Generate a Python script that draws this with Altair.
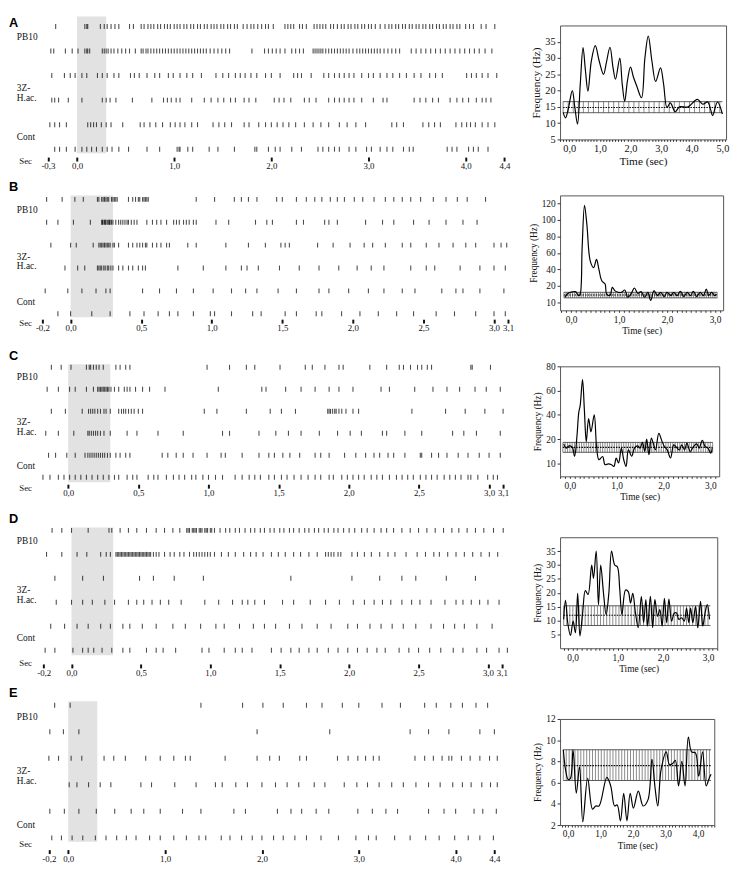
import altair as alt
import numpy as np
import pandas as pd

# ---------------- data (spike times in s, 6 trials per panel) ----------------
ROW_LABELS = ["PB10", "3Z-\nH.ac.", "Cont"]
ROW_LABEL_POS = [0.45, 2.5, 4.5]
STIM = [0.0, 0.3]

A_trials = [
    [-0.22, 0.08, 0.10, 0.11, 0.24, 0.28, 0.31, 0.35, 0.39, 0.43, 0.54, 0.58, 0.66, 0.69, 0.73, 0.76, 0.79, 0.83, 0.86, 0.90, 0.93, 0.96, 1.00, 1.03, 1.06, 1.10, 1.13, 1.17, 1.20, 1.24, 1.27, 1.31, 1.34, 1.38, 1.41, 1.44, 1.48, 1.51, 1.55, 1.58, 1.62, 1.65, 1.71, 1.75, 1.79, 1.82, 1.86, 1.90, 1.94, 1.97, 2.02, 2.14, 2.17, 2.20, 2.23, 2.29, 2.32, 2.36, 2.44, 2.47, 2.50, 2.53, 2.56, 2.61, 2.64, 2.68, 2.72, 2.75, 2.79, 2.82, 2.86, 2.89, 2.93, 2.96, 3.00, 3.03, 3.07, 3.12, 3.17, 3.21, 3.24, 3.28, 3.31, 3.35, 3.38, 3.42, 3.45, 3.49, 3.52, 3.56, 3.59, 3.63, 3.66, 3.70, 3.73, 3.77, 3.80, 3.84, 3.87, 3.91, 3.94, 4.00, 4.04, 4.08, 4.16, 4.21, 4.30],
    [-0.27, -0.24, -0.12, -0.05, 0.01, 0.08, 0.10, 0.11, 0.13, 0.26, 0.28, 0.30, 0.32, 0.35, 0.38, 0.42, 0.46, 0.50, 0.54, 0.60, 0.66, 0.68, 0.71, 0.73, 0.76, 0.79, 0.82, 0.85, 0.88, 0.91, 0.94, 0.97, 1.00, 1.03, 1.06, 1.09, 1.12, 1.15, 1.18, 1.21, 1.24, 1.27, 1.30, 1.33, 1.37, 1.41, 1.45, 1.49, 1.53, 1.57, 1.80, 1.93, 1.97, 2.01, 2.05, 2.09, 2.14, 2.21, 2.25, 2.29, 2.33, 2.43, 2.45, 2.47, 2.49, 2.51, 2.53, 2.56, 2.59, 2.62, 2.65, 2.68, 2.71, 2.74, 2.77, 2.80, 2.84, 2.88, 2.91, 2.94, 2.97, 3.00, 3.03, 3.06, 3.09, 3.12, 3.16, 3.20, 3.24, 3.28, 3.32, 3.44, 3.49, 3.54, 3.59, 3.64, 3.69, 3.74, 3.79, 3.84, 3.89, 3.94, 3.99, 4.04, 4.09, 4.14, 4.20, 4.27],
    [-0.26, -0.13, -0.07, -0.02, 0.05, 0.10, 0.21, 0.26, 0.31, 0.38, 0.43, 0.55, 0.59, 0.64, 0.72, 0.80, 0.85, 0.94, 0.99, 1.06, 1.13, 1.19, 1.28, 1.43, 1.50, 1.56, 1.63, 1.68, 1.73, 1.79, 1.85, 1.94, 2.00, 2.09, 2.23, 2.27, 2.31, 2.41, 2.54, 2.59, 2.65, 2.70, 2.75, 2.80, 2.85, 2.93, 3.00, 3.05, 3.12, 3.19, 3.25, 3.32, 3.39, 3.47, 3.54, 3.63, 3.69, 3.76, 4.01, 4.06, 4.11, 4.17, 4.23, 4.32],
    [-0.26, -0.23, -0.19, -0.09, 0.05, 0.26, 0.30, 0.34, 0.40, 0.57, 0.77, 0.89, 0.93, 0.97, 1.02, 1.06, 1.18, 1.31, 1.38, 1.45, 1.51, 1.58, 1.63, 1.72, 1.77, 1.84, 2.03, 2.08, 2.13, 2.20, 2.34, 2.39, 2.46, 2.59, 2.65, 2.70, 2.75, 2.80, 2.85, 2.93, 3.05, 3.15, 3.19, 3.47, 3.53, 3.59, 3.66, 3.72, 3.84, 3.91, 3.97, 4.03, 4.11, 4.17, 4.21, 4.26],
    [-0.28, -0.23, -0.18, -0.11, 0.11, 0.14, 0.17, 0.20, 0.25, 0.30, 0.35, 0.47, 0.65, 0.69, 0.75, 0.81, 0.88, 0.96, 1.01, 1.06, 1.11, 1.18, 1.24, 1.40, 1.46, 1.52, 1.59, 1.72, 1.77, 1.87, 1.94, 2.00, 2.06, 2.12, 2.18, 2.25, 2.34, 2.43, 2.51, 2.59, 2.70, 2.78, 2.87, 2.97, 3.24, 3.29, 3.36, 3.56, 3.62, 3.68, 3.74, 3.90, 3.96, 4.01, 4.05, 4.10, 4.17, 4.23, 4.30],
    [-0.23, -0.18, -0.11, -0.02, 0.05, 0.10, 0.15, 0.20, 0.26, 0.31, 0.36, 0.43, 0.53, 0.72, 0.85, 1.03, 1.05, 1.06, 1.14, 1.19, 1.36, 1.45, 1.62, 1.83, 1.85, 1.97, 2.04, 2.09, 2.21, 2.31, 2.48, 2.53, 2.59, 2.65, 2.70, 2.80, 2.87, 2.98, 3.03, 3.12, 3.19, 3.25, 3.36, 3.42, 3.46, 3.81, 3.86, 3.91, 4.03, 4.08, 4.13, 4.23],
]
B_trials = [
    [-0.17, -0.06, 0.03, 0.09, 0.19, 0.20, 0.22, 0.23, 0.24, 0.25, 0.26, 0.27, 0.29, 0.30, 0.31, 0.32, 0.33, 0.41, 0.44, 0.46, 0.48, 0.49, 0.51, 0.52, 0.53, 0.54, 0.55, 0.89, 1.02, 1.16, 1.21, 1.26, 1.32, 1.46, 1.50, 1.60, 1.67, 1.73, 1.78, 1.84, 1.89, 1.94, 2.01, 2.07, 2.15, 2.23, 2.29, 2.35, 2.41, 2.48, 2.57, 2.66, 2.74, 2.81, 2.94],
    [-0.17, -0.09, 0.02, 0.14, 0.22, 0.225, 0.23, 0.24, 0.245, 0.25, 0.26, 0.27, 0.275, 0.28, 0.29, 0.30, 0.32, 0.34, 0.355, 0.37, 0.385, 0.40, 0.41, 0.43, 0.45, 0.47, 0.54, 0.58, 0.61, 0.64, 0.68, 0.73, 0.75, 0.77, 0.80, 0.82, 0.84, 0.87, 0.89, 1.03, 1.12, 1.31, 1.39, 1.43, 1.60, 1.65, 1.80, 1.83, 1.89, 2.09, 2.21, 2.29, 2.43, 2.54, 2.66, 2.78, 2.88],
    [-0.14, 0.00, 0.04, 0.16, 0.20, 0.21, 0.22, 0.23, 0.24, 0.25, 0.26, 0.27, 0.28, 0.30, 0.31, 0.34, 0.41, 0.44, 0.47, 0.49, 0.51, 0.53, 0.54, 0.58, 0.61, 0.64, 0.68, 0.70, 0.83, 0.89, 1.10, 1.26, 1.38, 1.49, 1.52, 1.55, 1.75, 1.86, 1.98, 2.08, 2.14, 2.23, 2.35, 2.41, 2.52, 2.61, 2.71, 2.80, 2.87, 3.00, 3.05, 3.09],
    [-0.04, 0.05, 0.10, 0.19, 0.20, 0.21, 0.22, 0.235, 0.245, 0.26, 0.27, 0.285, 0.30, 0.34, 0.37, 0.41, 0.44, 0.48, 0.51, 0.53, 0.76, 0.94, 1.10, 1.21, 1.25, 1.33, 1.48, 1.62, 1.76, 1.90, 2.03, 2.13, 2.22, 2.41, 2.52, 2.58, 2.76, 2.90, 3.00, 3.08],
    [-0.18, -0.02, 0.08, 0.18, 0.25, 0.28, 0.51, 0.63, 0.75, 0.87, 1.01, 1.14, 1.24, 1.32, 1.47, 1.60, 1.76, 1.83, 1.97, 2.11, 2.22, 2.35, 2.44, 2.63, 2.73, 2.78, 2.90, 3.07],
    [-0.09, 0.00, 0.15, 0.28, 0.42, 0.52, 0.62, 0.70, 0.76, 0.87, 0.99, 1.02, 1.14, 1.29, 1.35, 1.52, 1.60, 1.74, 1.78, 1.92, 2.05, 2.18, 2.31, 2.43, 2.59, 2.72, 2.87, 3.00, 3.08],
]
C_trials = [
    [-0.12, -0.05, 0.02, 0.13, 0.15, 0.16, 0.18, 0.20, 0.22, 0.25, 0.34, 0.37, 0.41, 0.44, 0.99, 1.15, 1.27, 1.33, 1.51, 1.69, 1.74, 1.83, 1.93, 1.96, 2.15, 2.27, 2.36, 2.39, 2.44, 2.49, 2.52, 2.56, 2.59, 2.87, 2.88, 3.01],
    [-0.15, -0.07, 0.01, 0.05, 0.13, 0.18, 0.21, 0.22, 0.23, 0.24, 0.25, 0.26, 0.27, 0.28, 0.29, 0.305, 0.33, 0.36, 0.40, 0.42, 0.44, 0.48, 0.53, 0.58, 0.69, 1.07, 1.38, 1.41, 1.55, 1.66, 1.76, 1.86, 1.93, 2.03, 2.23, 2.29, 2.47, 2.60, 2.70, 2.79, 2.90, 2.98, 3.08],
    [-0.12, -0.02, 0.10, 0.145, 0.16, 0.175, 0.19, 0.21, 0.23, 0.255, 0.27, 0.30, 0.36, 0.38, 0.395, 0.41, 0.43, 0.45, 0.47, 0.50, 0.53, 0.97, 1.06, 1.27, 1.44, 1.52, 1.62, 1.85, 1.86, 1.87, 1.885, 1.90, 1.91, 1.93, 1.95, 1.98, 2.03, 2.07, 2.45, 2.69, 2.83, 2.97, 3.10],
    [-0.16, -0.07, 0.04, 0.14, 0.15, 0.165, 0.18, 0.195, 0.21, 0.23, 0.255, 0.30, 0.42, 0.49, 0.64, 0.82, 1.10, 1.15, 1.36, 1.48, 1.57, 1.66, 1.79, 1.92, 2.01, 2.09, 2.24, 2.27, 2.40, 2.52, 2.74, 2.82, 2.91, 3.08],
    [-0.14, -0.09, -0.01, 0.05, 0.12, 0.14, 0.155, 0.17, 0.185, 0.20, 0.215, 0.23, 0.245, 0.26, 0.28, 0.30, 0.34, 0.37, 0.41, 0.44, 0.67, 0.71, 0.77, 0.82, 0.89, 0.99, 1.09, 1.12, 1.24, 1.36, 1.43, 1.47, 1.53, 1.58, 1.65, 1.76, 1.80, 1.86, 1.97, 2.05, 2.12, 2.18, 2.22, 2.28, 2.32, 2.40, 2.51, 2.52, 2.59, 2.64, 2.70, 2.78, 2.85, 2.93, 3.00, 3.08],
    [-0.18, -0.13, -0.07, -0.03, 0.01, 0.05, 0.09, 0.13, 0.17, 0.21, 0.25, 0.29, 0.33, 0.36, 0.42, 0.46, 0.49, 0.57, 0.61, 0.64, 0.70, 0.75, 0.79, 0.83, 0.88, 0.91, 0.96, 1.00, 1.05, 1.10, 1.19, 1.24, 1.29, 1.33, 1.37, 1.43, 1.47, 1.52, 1.56, 1.61, 1.66, 1.71, 1.76, 1.80, 1.86, 1.89, 1.95, 1.99, 2.03, 2.07, 2.11, 2.16, 2.20, 2.24, 2.29, 2.34, 2.38, 2.42, 2.46, 2.51, 2.55, 2.59, 2.63, 2.68, 2.72, 2.76, 2.80, 2.85, 2.87, 2.92, 2.99, 3.03, 3.06],
]
D_trials = [
    [-0.14, -0.07, 0.00, 0.12, 0.27, 0.29, 0.35, 0.41, 0.47, 0.54, 0.61, 0.67, 0.73, 0.78, 0.83, 0.84, 0.85, 0.87, 0.88, 0.89, 0.90, 0.92, 0.93, 0.94, 0.96, 0.97, 0.98, 1.00, 1.01, 1.03, 1.07, 1.11, 1.14, 1.18, 1.21, 1.25, 1.29, 1.32, 1.36, 1.39, 1.43, 1.46, 1.50, 1.53, 1.57, 1.60, 1.64, 1.68, 1.71, 1.75, 1.78, 1.82, 1.85, 1.89, 1.92, 1.96, 2.00, 2.04, 2.09, 2.13, 2.18, 2.23, 2.27, 2.32, 2.38, 2.44, 2.50, 2.56, 2.62, 2.68, 2.74, 2.79, 2.85, 2.91, 2.97, 3.04, 3.11],
    [-0.18, -0.07, 0.04, 0.11, 0.21, 0.25, 0.28, 0.32, 0.33, 0.34, 0.35, 0.36, 0.37, 0.38, 0.39, 0.40, 0.41, 0.42, 0.43, 0.44, 0.45, 0.46, 0.47, 0.48, 0.49, 0.50, 0.51, 0.52, 0.53, 0.54, 0.55, 0.56, 0.57, 0.59, 0.61, 0.63, 0.67, 0.71, 0.74, 0.78, 0.81, 0.85, 0.88, 0.90, 0.92, 0.94, 0.96, 0.98, 1.00, 1.03, 1.08, 1.13, 1.18, 1.24, 1.29, 1.33, 1.38, 1.44, 1.49, 1.54, 1.60, 1.65, 1.71, 1.77, 1.83, 1.85, 1.87, 1.89, 1.92, 1.94, 2.02, 2.06, 2.11, 2.16, 2.22, 2.28, 2.33, 2.41, 2.49, 2.55, 2.61, 2.65, 2.71, 2.77, 2.83, 2.89, 2.95, 3.01, 3.07],
    [-0.12, 0.08, 0.23, 0.49, 0.59, 0.74, 0.95, 1.58, 2.02, 2.22, 2.38, 2.48, 2.70, 2.91],
    [-0.11, 0.00, 0.08, 0.15, 0.24, 0.31, 0.41, 0.47, 0.52, 0.58, 0.64, 0.70, 0.79, 0.96, 1.06, 1.16, 1.23, 1.27, 1.32, 1.39, 1.52, 1.60, 1.72, 1.83, 1.93, 2.03, 2.11, 2.18, 2.24, 2.30, 2.38, 2.45, 2.51, 2.59, 2.69, 2.77, 2.82, 2.88, 2.94, 3.00, 3.08],
    [-0.15, -0.05, 0.04, 0.12, 0.21, 0.28, 0.37, 0.42, 0.51, 0.61, 0.73, 0.82, 0.93, 1.04, 1.10, 1.21, 1.31, 1.39, 1.47, 1.57, 1.66, 1.77, 1.87, 1.99, 2.06, 2.15, 2.23, 2.31, 2.39, 2.48, 2.59, 2.68, 2.76, 2.83, 2.92, 3.03],
    [-0.19, -0.12, 0.01, 0.08, 0.12, 0.16, 0.22, 0.29, 0.37, 0.42, 0.54, 0.61, 0.66, 0.75, 0.94, 0.99, 1.10, 1.18, 1.23, 1.30, 1.44, 1.51, 1.58, 1.64, 1.71, 1.77, 1.85, 1.92, 1.99, 2.06, 2.13, 2.20, 2.26, 2.36, 2.43, 2.50, 2.58, 2.66, 2.75, 2.82, 2.92, 2.99, 3.08, 3.14],
]
E_trials = [
    [-0.14, 0.02, 1.37, 1.80, 2.01, 2.22, 2.46, 2.62, 2.83, 3.00, 3.24, 3.43, 3.68, 3.80, 3.95, 4.07, 4.21, 4.33],
    [-0.19, -0.05, 0.11, 1.95, 2.70, 3.53, 3.72, 3.93, 4.25, 4.40],
    [-0.20, -0.10, 0.03, 0.14, 0.37, 0.47, 0.59, 0.80, 0.95, 1.09, 1.21, 1.26, 1.62, 1.95, 2.08, 2.18, 2.39, 2.46, 2.78, 2.89, 2.99, 3.07, 3.15, 3.21, 3.58, 3.68, 3.77, 3.86, 3.93, 3.96, 4.06, 4.15, 4.25, 4.35, 4.43],
    [0.01, 0.09, 0.21, 0.33, 0.44, 0.75, 0.86, 1.10, 1.32, 1.52, 1.59, 1.73, 1.85, 2.00, 2.14, 2.26, 2.38, 2.54, 2.65, 2.85, 2.98, 3.09, 3.21, 3.34, 3.46, 3.59, 3.72, 3.84, 3.97, 4.07, 4.16, 4.27, 4.36, 4.43],
    [-0.19, -0.04, 0.11, 0.29, 0.48, 0.65, 0.78, 0.95, 1.18, 1.37, 1.71, 1.83, 2.16, 2.30, 2.41, 2.56, 2.69, 2.99, 3.14, 3.28, 3.40, 3.72, 3.88, 4.00, 4.19, 4.28, 4.42],
    [-0.17, -0.07, 0.04, 0.15, 0.28, 0.39, 0.50, 0.60, 0.70, 0.84, 0.95, 1.09, 1.22, 1.35, 1.42, 1.58, 1.67, 1.79, 1.90, 2.00, 2.12, 2.22, 2.34, 2.46, 2.61, 2.79, 2.97, 3.10, 3.18, 3.37, 3.53, 3.69, 3.83, 3.99, 4.13, 4.25, 4.39],
]

A_ticks = [-0.3, 0.0, 1.0, 2.0, 3.0, 4.0, 4.4]
B_ticks = [-0.2, 0.0, 0.5, 1.0, 1.5, 2.0, 2.5, 3.0, 3.1]
C_ticks = [-0.2, 0.0, 0.5, 1.0, 1.5, 2.0, 2.5, 3.0, 3.1]
D_ticks = [-0.2, 0.0, 0.5, 1.0, 1.5, 2.0, 2.5, 3.0, 3.1]
E_ticks = [-0.2, 0.0, 1.0, 2.0, 3.0, 4.0, 4.4]

# ---------------- frequency histograms ----------------
A_freq_t = [-0.2, -0.12, -0.03, 0.1, 0.18, 0.27, 0.36, 0.45, 0.53, 0.61, 0.72, 0.85, 0.98, 1.12, 1.22, 1.33, 1.43, 1.51, 1.65, 1.73, 1.81, 1.9, 2.0, 2.1, 2.2, 2.36, 2.47, 2.58, 2.7, 2.82, 2.98, 3.08, 3.19, 3.3, 3.46, 3.6, 3.88, 4.18, 4.36, 4.52, 4.62, 4.68, 4.84, 5.0]
A_freq_v = [13.3, 11.6, 14.5, 20.0, 15.0, 9.7, 22.0, 33.2, 26.0, 19.8, 29.0, 33.8, 29.0, 25.0, 29.0, 33.3, 27.0, 23.5, 30.0, 22.0, 16.7, 23.0, 27.2, 24.0, 21.5, 17.8, 30.0, 36.7, 29.0, 22.8, 27.0, 22.0, 14.8, 16.2, 13.5, 15.0, 15.0, 17.3, 15.8, 16.5, 14.0, 12.3, 16.5, 12.8]
B_freq_t = [-0.13, -0.08, -0.01, 0.09, 0.16, 0.19, 0.23, 0.28, 0.33, 0.40, 0.47, 0.53, 0.58, 0.64, 0.71, 0.74, 0.81, 0.86, 0.91, 0.98, 1.05, 1.12, 1.18, 1.25, 1.32, 1.39, 1.46, 1.53, 1.60, 1.66, 1.73, 1.80, 1.87, 1.94, 2.00, 2.08, 2.14, 2.21, 2.28, 2.35, 2.42, 2.49, 2.55, 2.62, 2.69, 2.76, 2.82, 2.87, 2.93, 3.00, 3.03]
B_freq_v = [13, 15, 16, 16.4, 14, 15, 66, 118, 94, 50, 42, 52, 40, 26, 22, 15, 14, 19, 17, 16, 16, 17.4, 13, 15, 18.6, 15.4, 16.4, 13, 16, 11, 17, 14, 16, 13.4, 16, 14, 16, 14, 16.6, 13.4, 16, 14, 16.6, 13.4, 16, 14, 18, 14, 16, 14, 15]
C_freq_t = [-0.13, -0.08, -0.02, 0.05, 0.10, 0.15, 0.19, 0.22, 0.27, 0.31, 0.35, 0.40, 0.45, 0.52, 0.57, 0.62, 0.70, 0.75, 0.82, 0.89, 0.94, 0.99, 1.04, 1.10, 1.15, 1.20, 1.25, 1.32, 1.38, 1.45, 1.50, 1.55, 1.60, 1.64, 1.69, 1.74, 1.78, 1.83, 1.90, 1.97, 2.02, 2.08, 2.15, 2.22, 2.29, 2.34, 2.39, 2.45, 2.50, 2.57, 2.64, 2.71, 2.76, 2.83, 2.89, 2.95, 3.01, 3.04]
C_freq_v = [18.1, 16.4, 17.3, 16.8, 13.1, 22, 42, 47.7, 69, 43.7, 19, 37, 26, 40, 17, 11.7, 13, 9.7, 10, 9.7, 9, 12.4, 10.4, 16.4, 11.7, 9, 15.7, 13.1, 16.4, 17.3, 16.4, 18.7, 15.1, 20, 13.7, 20.8, 18.4, 15.7, 24.8, 19, 17, 15.7, 12.4, 17.7, 16.4, 15.7, 17.7, 15.7, 18.4, 15, 17, 18.1, 16.4, 19.5, 17, 16.4, 14.4, 16.4]
D_freq_t = [-0.20, -0.16, -0.11, -0.05, 0.01, 0.06, 0.11, 0.16, 0.22, 0.28, 0.34, 0.42, 0.46, 0.52, 0.57, 0.62, 0.68, 0.74, 0.80, 0.86, 0.93, 0.99, 1.04, 1.09, 1.17, 1.23, 1.28, 1.33, 1.39, 1.45, 1.52, 1.57, 1.62, 1.66, 1.72, 1.77, 1.82, 1.88, 1.93, 1.98, 2.03, 2.08, 2.13, 2.19, 2.25, 2.30, 2.35, 2.41, 2.47, 2.52, 2.57, 2.61, 2.66, 2.72, 2.77, 2.83, 2.88, 2.93, 2.98, 3.03]
D_freq_v = [10.4, 17.3, 9.2, 4.6, 9.8, 5.6, 19.8, 4.4, 12.7, 20.8, 19.3, 30, 25.2, 35, 15.7, 30, 20.2, 12.1, 19.8, 35, 30, 29.3, 21.6, 12.1, 21, 20.4, 16.3, 19.8, 12.7, 7.4, 18.7, 9.2, 17.5, 8, 18.7, 7.4, 17.5, 11.5, 13.9, 8, 18, 9.2, 17.7, 9.8, 12.7, 12.7, 10.4, 11, 9.8, 14.5, 9.2, 14.5, 9.2, 15.1, 7.4, 16.9, 8, 12.7, 15.7, 10.4]
E_freq_t = [-0.15, -0.08, 0.0, 0.07, 0.15, 0.25, 0.35, 0.45, 0.60, 0.75, 0.85, 0.95, 1.19, 1.31, 1.43, 1.51, 1.61, 1.71, 1.81, 1.91, 2.01, 2.16, 2.31, 2.46, 2.58, 2.68, 2.76, 2.86, 3.02, 3.12, 3.22, 3.30, 3.40, 3.50, 3.60, 3.70, 3.80, 3.92, 4.02, 4.14, 4.25, 4.34, 4.40]
E_freq_v = [9.1, 7.2, 6.3, 6.4, 9.1, 5.0, 7.5, 2.3, 6.4, 3.5, 3.8, 3.8, 6.5, 5.7, 3.8, 3.9, 2.4, 5.0, 2.4, 5.0, 3.6, 5.2, 3.8, 4.4, 8.2, 5.4, 3.8, 7.2, 8.9, 7.7, 7.8, 8.1, 5.7, 8.0, 5.7, 10.3, 8.9, 8.8, 6.6, 8.9, 5.7, 6.4, 6.8]

# band: [low (mean-SD), mean, high (mean+SD)], span of the band in seconds
A_band = [13.2, 14.8, 16.6]; A_span = [-0.2, 5.0]
B_band = [12.6, 14.4, 16.0]; B_span = [-0.15, 3.05]
C_band = [14.7, 16.7, 18.7]; C_span = [-0.15, 3.05]
D_band = [8.2, 11.9, 15.3]; D_span = [-0.2, 3.05]
E_band = [6.2, 7.6, 9.1]; E_span = [-0.15, 4.4]

A_yticks = [5, 10, 15, 20, 25, 30, 35]
B_yticks = [10, 20, 40, 60, 80, 100, 120]
C_yticks = [10, 20, 40, 60, 80]
D_yticks = [5, 10, 15, 20, 25, 30, 35]
E_yticks = [2, 4, 6, 8, 10, 12]
A_xlabels = [0, 1, 2, 3, 4, 5]
B_xlabels = [0, 1, 2, 3]
C_xlabels = [0, 1, 2, 3]
D_xlabels = [0, 1, 2, 3]
E_xlabels = [0, 1, 2, 3, 4]

# ---------------- layout (pixels, not data) ----------------
LAYOUT = {
    "A": dict(rx=[-0.367, 4.446], rw=476, rh=116, first=1, pitch=25.0, band=(-9, 130), axoff=18, secY=4, letY=-2,
              fx=[-0.3, 5.12], fw=169, fh=116, ydom=[5, 40], yfrac=None, hstep=0.165, lab=10.5, tit=11.5),
    "B": dict(rx=[-0.207, 3.113], rw=477, rh=117, first=4, pitch=23.3, band=(0, 124), axoff=9, secY=3, letY=-8,
              fx=[-0.23, 3.17], fw=166, fh=117, ydom=[5, 20, 130], yfrac=0.786, hstep=0.045, lab=9.5, tit=9.5),
    "C": dict(rx=[-0.191, 3.198], rw=484, rh=117, first=1, pitch=22.4, band=(-2, 118), axoff=3, secY=3, letY=-10,
              fx=[-0.21, 3.19], fw=162, fh=112, ydom=[5, 20, 80], yfrac=0.662, hstep=0.05, lab=9.5, tit=9.5),
    "D": dict(rx=[-0.217, 3.201], rw=483, rh=128, first=-7, pitch=24.4, band=(-10, 120), axoff=1, secY=-1, letY=-18,
              fx=[-0.28, 3.2], fw=160, fh=113, ydom=[0, 40], yfrac=None, hstep=0.068, lab=9.5, tit=9.5),
    "E": dict(rx=[-0.277, 4.642], rw=485, rh=125, first=-14, pitch=27.0, band=(-18, 125), axoff=8, secY=-6, letY=-26,
              fx=[-0.25, 4.5], fw=157, fh=108, ydom=[2, 12], yfrac=None, hstep=0.09, lab=9.5, tit=9.5),
}

SERIF = "Liberation Serif"
INK = "#111111"


def raster(letter, trials, ticks, L):
    spikes = pd.DataFrame([{"t": t, "trial": i} for i, tr in enumerate(trials) for t in tr])
    first, pitch = L["first"], L["pitch"]
    yscale = alt.Scale(domain=[0, 5], range=[first, first + 5 * pitch], nice=False, zero=False)
    xscale = alt.Scale(domain=L["rx"], nice=False, zero=False)
    xaxis = alt.Axis(
        values=ticks,
        labelExpr="(datum.value < 0 ? '-' : '') + replace(format(abs(datum.value), '.1f'), '.', ',')",
        title="Sec", titleX=-23, titleY=L["secY"], titleAlign="left", titleBaseline="middle",
        titleFontSize=9, titleFont=SERIF, titleFontWeight="normal", titleColor=INK,
        domain=False, grid=False, tickSize=4, tickWidth=2, tickColor=INK, offset=L["axoff"],
        labelFontSize=9, labelFont=SERIF, labelColor=INK, labelPadding=1,
        labelOverlap=False, labelFlush=False,
    )
    b0, b1 = L["band"]
    band_df = pd.DataFrame({"t": [STIM[0]], "t2": [STIM[1]],
                            "trial": [(b0 - first) / pitch], "trial2": [(b1 - first) / pitch]})
    band = alt.Chart(band_df).mark_rect(color="#e2e2e2").encode(
        x=alt.X("t:Q", scale=xscale, axis=xaxis), x2="t2:Q",
        y=alt.Y("trial:Q", scale=yscale, axis=None), y2="trial2:Q",
    )
    ticks_l = alt.Chart(spikes).mark_tick(orient="vertical", size=5, thickness=1.1, color="#000000").encode(
        x=alt.X("t:Q", scale=xscale, axis=xaxis),
        y=alt.Y("trial:Q", scale=yscale, axis=None),
    )
    lab_df = pd.DataFrame({"lab": ROW_LABELS, "trial": ROW_LABEL_POS})
    labels = alt.Chart(lab_df).mark_text(
        align="left", baseline="middle", font=SERIF, fontSize=9.5, lineBreak="\n", lineHeight=10, color=INK
    ).encode(x=alt.value(-25), y=alt.Y("trial:Q", scale=yscale, axis=None), text="lab:N")
    let = alt.Chart(pd.DataFrame({"lab": [letter]})).mark_text(
        align="left", baseline="middle", font="Liberation Sans", fontWeight="bold", fontSize=13, color="#000000"
    ).encode(x=alt.value(-33), y=alt.value(L["letY"]), text="lab:N")
    return alt.layer(band, ticks_l, labels, let).properties(width=L["rw"], height=L["rh"])


def freq(t, v, band, span, yticks, xlabels, L):
    W, H = L["fw"], L["fh"]
    if L["yfrac"] is None:
        yscale = alt.Scale(domain=L["ydom"], nice=False, zero=False)
    else:
        yscale = alt.Scale(domain=L["ydom"], range=[H, H * L["yfrac"], 0], nice=False, zero=False)
    x0, x1 = L["fx"]
    minor = [round(float(x), 1) + 0.0 for x in np.arange(np.ceil(x0 * 10) / 10, x1 + 1e-9, 0.1)]
    xscale = alt.Scale(domain=L["fx"], nice=False, zero=False)
    xaxis = alt.Axis(
        values=minor,
        labelExpr="abs(datum.value - round(datum.value)) < 0.001 ? replace(format(datum.value, '.1f'), '.', ',') : ''",
        title="Time (sec)", titleFontSize=L["tit"], titleFont=SERIF, titleFontWeight="normal", titleColor=INK,
        titlePadding=2, domain=False, grid=False, tickSize=2, tickColor="#333333",
        labelFontSize=L["lab"], labelFont=SERIF, labelColor=INK, labelPadding=2,
        labelOverlap=False, labelFlush=False,
    )
    yaxis = alt.Axis(
        values=yticks, title="Frequency (Hz)", titleFontSize=L["tit"], titleFont=SERIF,
        titleFontWeight="normal", titleColor=INK, titlePadding=3,
        domain=False, grid=False, tickSize=3, tickColor="#333333",
        labelFontSize=L["lab"], labelFont=SERIF, labelColor=INK, labelPadding=2,
        labelOverlap=False, labelFlush=False,
    )
    lo, mean, hi = band
    hatch = pd.DataFrame({"t": [round(float(x), 3) for x in np.arange(span[0], span[1] + 1e-9, L["hstep"])]})
    hatch["v"] = lo
    hatch["v2"] = hi
    hatch_l = alt.Chart(hatch).mark_rule(color="#3a3a3a", strokeWidth=0.6).encode(
        x=alt.X("t:Q", scale=xscale, axis=xaxis),
        y=alt.Y("v:Q", scale=yscale, axis=yaxis), y2="v2:Q",
    )
    edges = pd.DataFrame({"t": [span[0], span[0]], "t2": [span[1], span[1]], "v": [lo, hi]})
    edge_l = alt.Chart(edges).mark_rule(color="#333333", strokeWidth=0.8).encode(
        x=alt.X("t:Q", scale=xscale, axis=xaxis), x2="t2:Q",
        y=alt.Y("v:Q", scale=yscale, axis=yaxis),
    )
    mean_df = pd.DataFrame({"t": [span[0]], "t2": [span[1]], "v": [mean]})
    mean_l = alt.Chart(mean_df).mark_rule(color="#000000", strokeWidth=1.1, strokeDash=[1.5, 1.2]).encode(
        x=alt.X("t:Q", scale=xscale, axis=xaxis), x2="t2:Q",
        y=alt.Y("v:Q", scale=yscale, axis=yaxis),
    )
    line_df = pd.DataFrame({"t": t, "v": v})
    line_l = alt.Chart(line_df).mark_line(color="#000000", strokeWidth=1.2, interpolate="catmull-rom").encode(
        x=alt.X("t:Q", scale=xscale, axis=xaxis),
        y=alt.Y("v:Q", scale=yscale, axis=yaxis),
    )
    return alt.layer(hatch_l, edge_l, mean_l, line_l).properties(
        width=W, height=H, view=alt.ViewBackground(stroke="#555555", strokeWidth=1)
    )


PANELS = [
    ("A", A_trials, A_ticks, A_freq_t, A_freq_v, A_band, A_span, A_yticks, A_xlabels),
    ("B", B_trials, B_ticks, B_freq_t, B_freq_v, B_band, B_span, B_yticks, B_xlabels),
    ("C", C_trials, C_ticks, C_freq_t, C_freq_v, C_band, C_span, C_yticks, C_xlabels),
    ("D", D_trials, D_ticks, D_freq_t, D_freq_v, D_band, D_span, D_yticks, D_xlabels),
    ("E", E_trials, E_ticks, E_freq_t, E_freq_v, E_band, E_span, E_yticks, E_xlabels),
]

cells = []
for letter, trials, ticks, ft, fv, band, span, yticks, xlabels in PANELS:
    L = LAYOUT[letter]
    cells.append(raster(letter, trials, ticks, L))
    cells.append(freq(ft, fv, band, span, yticks, xlabels, L))

chart = alt.concat(
    *cells,
    columns=2,
    spacing={"row": 57, "column": 43},
    bounds="flush",
    align={"row": "each", "column": "none"},
).properties(
    padding={"left": 0, "top": 0, "right": 0, "bottom": 0}
).configure(
    font=SERIF
).configure_view(
    stroke="transparent"
)

chart.save("out.html", embed_options={"renderer": "svg", "actions": False})
